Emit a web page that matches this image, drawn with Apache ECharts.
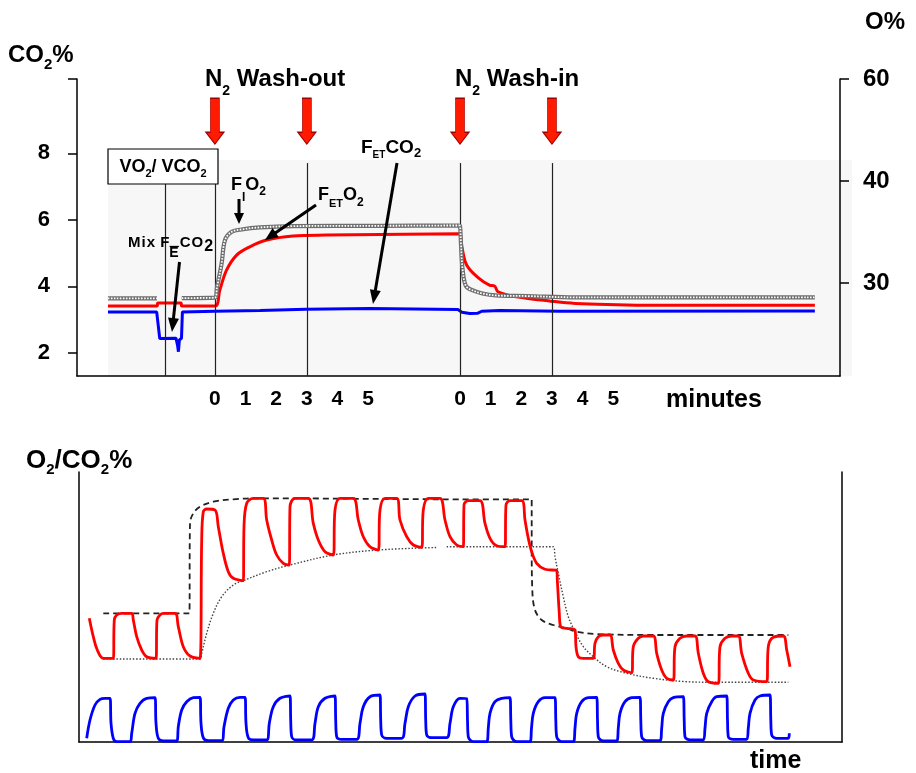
<!DOCTYPE html>
<html>
<head>
<meta charset="utf-8">
<script src="https://cdn.jsdelivr.net/npm/echarts@6/dist/echarts.min.js"></script>
<style>
  html, body { margin: 0; padding: 0; background: #fff; }
  #c { width: 916px; height: 773px; }
</style>
</head>
<body>
<div id="c"></div>
<script>
// ---------- Upper panel: trend recording, time in minutes (wash-out at 0, wash-in at 8) ----------
const minuteTicks = [0, 1, 2, 3, 4, 5, 8, 9, 10, 11, 12, 13];
const washInStart = 8;
const co2Ticks = [2, 4, 6, 8];
const o2Ticks = [60, 40, 30];
const eventTimes = [0, 3, 8, 11];                 // red arrows
const phaseLines = [-1.63, 0, 3, 8, 11];           // vertical guide lines
const phaseLineTop = [7.08, 7.08, 7.71, 7.71, 7.71];

// inspired O2 (%), null = not recorded while mixed expired gas was sampled
const fio2Time = [-3.49, -1.89, -1.5, -1.08, 0, 0.07, 0.22, 0.33, 0.55, 0.87, 1.47, 2.55, 5.39, 7.96, 8.0, 8.03, 8.08, 8.18, 8.34, 8.73, 9.17, 10.18, 11.75, 19.58];
const fio2Pct  = [28.92, 28.92, null, 28.94, 28.97, 29.71, 31.52, 33.54, 34.31, 34.54, 34.74, 34.87, 34.90, 34.93, 34.87, 33.23, 31.12, 29.85, 29.54, 29.26, 29.12, 29.08, 28.99, 28.99];

// end-tidal O2 (%)
const feto2Time = [-3.49, -1.89, -1.86, -1.11, -1.08, 0, 0.16, 0.38, 0.71, 1.14, 1.69, 2.55, 3.65, 5.38, 7.97, 8.06, 8.22, 8.62, 8.96, 9.13, 9.24, 9.85, 10.97, 11.75, 14.31, 19.58];
const feto2Pct  = [28.40, 28.40, 28.60, 28.60, 28.40, 28.40, 29.49, 30.98, 32.21, 32.93, 33.54, 33.91, 34.00, 34.06, 34.12, 32.93, 31.38, 30.35, 29.85, 29.78, 29.38, 29.03, 28.73, 28.58, 28.46, 28.46];

// end-tidal CO2 (%), with the mixed expired CO2 dip
const fetco2Time = [-3.49, -1.90, -1.80, -1.27, -1.22, -1.19, -1.16, -1.09, -1.06, 0, 1.47, 2.97, 5.06, 7.93, 8.06, 8.32, 8.58, 8.71, 9.30, 11.26, 19.58];
const fetco2Pct  = [3.23, 3.23, 2.43, 2.44, 2.23, 2.03, 2.38, 2.44, 3.23, 3.25, 3.27, 3.31, 3.33, 3.30, 3.22, 3.18, 3.19, 3.25, 3.27, 3.25, 3.26];

// ---------- Lower panel: breath-by-breath waveforms, time in seconds, gas in % ----------
const o2Wave = [
  [1.03,24.74],[1.43,21.06],[1.83,18.4],[2.43,16.74],[3.43,16.74],[3.53,24.4],[3.77,25.4],[4.27,25.74],[5.27,25.74],
  [5.43,24.4],[5.77,21.06],[6.27,18.4],[6.77,17.06],[7.7,16.74],[7.8,24.4],[8.1,25.4],[8.43,25.74],[9.6,25.74],
  [9.93,23.06],[10.43,19.06],[11.1,17.2],[12.1,16.74],[12.27,40.4],[12.43,46.06],[12.77,46.6],[13.6,46.4],
  [13.93,43.06],[14.43,37.74],[14.93,34.06],[15.43,32.74],[16.43,32.26],[16.5,43.06],[16.77,47.74],[17.43,48.74],[18.43,48.74],
  [18.77,44.4],[19.27,40.4],[19.77,37.4],[20.43,35.74],[21.03,35.4],[21.1,47.06],[21.6,48.74],[22.93,48.74],
  [23.43,43.74],[23.93,40.4],[24.6,38.06],[25.43,37.4],[25.6,46.4],[26.1,48.74],[27.43,48.74],
  [27.93,44.4],[28.43,41.06],[29.1,39.06],[29.93,38.4],[30.1,46.4],[30.6,48.74],[31.77,48.74],
  [32.1,44.4],[32.77,41.06],[33.43,39.4],[34.27,38.94],[34.43,46.4],[34.93,48.74],[36.1,48.74],
  [36.6,44.4],[37.1,41.06],[37.77,39.4],[38.43,39.06],[38.5,47.4],[38.93,48.26],[40.1,48.26],
  [40.6,43.74],[41.1,40.74],[41.77,39.26],[42.6,39.06],[42.7,47.4],[43.1,48.26],[44.27,48.26],
  [44.6,44.4],[44.93,40.74],[45.27,38.06],[45.77,35.74],[46.6,34.54],[47.77,34.26],[47.83,32.4],[48.03,25.74],
  [48.17,23.06],[48.77,22.74],[49.6,22.4],[49.7,19.06],[49.93,17.06],[50.43,16.74],[51.43,16.74],
  [51.6,19.74],[51.93,21.06],[52.43,21.4],[53.1,21.4],[53.43,18.4],[53.93,15.74],[54.43,14.4],[55.27,13.86],
  [55.43,19.06],[55.93,20.74],[56.43,21.2],[57.43,21.2],[57.77,17.74],[58.27,14.4],[58.77,12.74],[59.43,12.4],
  [59.6,19.06],[60.1,20.74],[60.77,21.2],[61.6,21.2],[61.93,17.74],[62.43,13.74],[62.93,12.06],[63.93,11.74],
  [64.1,19.06],[64.6,20.74],[65.27,21.2],[65.93,21.2],[66.27,17.74],[66.93,13.74],[67.43,12.4],[68.77,12.06],
  [68.93,19.06],[69.43,20.94],[70.43,21.2],[70.77,18.4],[71.1,15.06]
];
const co2Wave = [
  [0.77,0.74],[1.1,4.4],[1.6,7.4],[2.1,8.54],[2.6,8.74],[3.1,8.74],[3.2,3.8],[3.43,0.74],[3.77,0.06],[5.1,0.06],
  [5.27,1.74],[5.6,5.74],[6.1,7.74],[6.77,8.74],[7.6,8.86],[7.7,3.8],[7.93,0.74],[8.43,0.2],[9.77,0.2],
  [9.93,3.06],[10.27,6.4],[10.77,8.06],[11.43,8.86],[12.1,8.94],[12.2,3.8],[12.43,0.86],[12.93,0.26],[14.27,0.26],
  [14.5,3.06],[14.93,6.74],[15.43,8.4],[16.1,8.94],[16.6,8.94],[16.7,3.8],[16.93,0.86],[17.43,0.4],[18.77,0.4],
  [19.03,3.74],[19.43,7.06],[20.1,8.74],[21.1,9.2],[21.17,4.4],[21.27,1.06],[21.77,0.4],[23.27,0.4],
  [23.6,3.74],[23.93,7.06],[24.6,8.74],[25.6,9.2],[25.67,4.4],[25.77,1.06],[26.27,0.54],[27.77,0.54],
  [28.1,3.74],[28.43,7.06],[29.1,9.06],[30.1,9.4],[30.17,4.4],[30.27,1.4],[30.77,0.74],[32.27,0.74],
  [32.6,3.74],[32.93,7.06],[33.6,9.2],[34.6,9.6],[34.67,4.4],[34.77,1.4],[35.27,0.86],[36.77,0.86],
  [37.1,3.74],[37.43,7.06],[38.1,8.74],[38.77,8.7],[38.85,4.4],[38.93,1.06],[39.43,0.06],[40.77,0.06],
  [40.93,2.8],[41.1,5.74],[41.6,8.06],[42.27,8.74],[43.1,8.86],[43.18,4.4],[43.27,1.06],[43.77,0.06],[45.1,0.06],
  [45.25,2.8],[45.43,5.74],[45.93,8.06],[46.6,8.86],[47.6,8.86],[47.68,4.4],[47.77,1.06],[48.27,0.06],[49.43,0.06],
  [49.6,2.8],[49.77,5.74],[50.27,8.06],[50.93,8.86],[51.77,8.94],[51.85,4.4],[51.93,1.06],[52.43,0.2],[53.77,0.2],
  [53.93,2.8],[54.1,5.74],[54.6,8.06],[55.27,8.86],[56.1,8.94],[56.18,4.4],[56.27,1.06],[56.77,0.26],[58.1,0.26],
  [58.27,2.8],[58.43,5.74],[58.93,8.06],[59.43,8.86],[60.43,9.06],[60.52,4.4],[60.6,1.06],[61.1,0.4],[62.43,0.4],
  [62.6,2.8],[62.77,5.74],[63.27,8.06],[63.77,9.06],[64.77,9.2],[64.85,4.4],[64.93,1.06],[65.43,0.54],[66.77,0.54],
  [66.93,2.8],[67.1,5.74],[67.6,8.4],[68.1,9.2],[69.1,9.4],[69.18,4.4],[69.27,1.4],[69.77,0.74],[70.93,0.74],[71.03,1.74]
];
// inspired O2 envelope (dashed) and end-tidal O2 envelope (dotted)
const fio2Env = [
  [2.43,25.74],[11.03,25.74],[11.1,43.74],[11.43,45.74],[12.1,47.06],[13.43,48.06],[15.43,48.54],[18.1,48.74],
  [38.1,48.54],[45.27,48.54],[45.27,39.06],[45.33,30.4],[45.6,26.4],[46.27,24.4],[47.43,23.4],[48.77,22.74],
  [49.77,22.06],[51.77,21.6],[57.43,21.4],[70.93,21.4]
];
const feto2Env = [
  [2.43,16.6],[12.1,16.6],[12.27,17.74],[12.77,21.74],[13.43,25.74],[14.27,29.06],[15.43,31.4],[16.43,32.26],
  [18.77,34.06],[21.1,35.4],[25.43,37.4],[29.93,38.4],[35.77,38.9],[36.27,null],[36.77,39.06],[47.43,39.06],
  [47.6,37.06],[47.93,33.74],[48.43,29.06],[48.93,25.06],[49.6,22.06],[50.43,19.06],[51.43,17.06],[52.77,15.06],
  [54.77,13.74],[57.43,12.74],[60.77,12.06],[64.1,11.94],[70.93,11.94]
];

// ---------- helpers ----------
const F = '"Liberation Sans", Arial, Helvetica, sans-serif';
const RED = '#ff0000', BLUE = '#0000ff';
// O2 axis is reciprocal: equal steps in 120 / O%
const recip = v => 120 / v;
const zip = (ts, vs, f) => ts.map((t, i) => [t, vs[i] == null ? null : (f ? f(vs[i]) : vs[i])]);

function tok(size, padTop) {
  return { fontSize: size, fontWeight: 'bold', fontFamily: F, fill: '#000', lineHeight: size, padding: [padTop || 0, 0, 0, 0] };
}
function label(x, y, text, rich, align) {
  return { type: 'text', x: x, y: y, z: 50,
    style: { text: text, rich: rich, align: align || 'left', verticalAlign: 'middle', fill: '#000',
             fontFamily: F, fontWeight: 'bold', fontSize: 20 } };
}
function arrow(x1, y1, x2, y2, headLen, headW, w) {
  const dx = x2 - x1, dy = y2 - y1, len = Math.hypot(dx, dy);
  const ux = dx / len, uy = dy / len, px = -uy, py = ux;
  const bx = x2 - ux * headLen, by = y2 - uy * headLen;
  return [
    { type: 'line', z: 50, shape: { x1: x1, y1: y1, x2: bx + ux, y2: by + uy }, style: { stroke: '#000', lineWidth: w } },
    { type: 'polygon', z: 50, shape: { points: [[x2, y2], [bx + px * headW / 2, by + py * headW / 2], [bx - px * headW / 2, by - py * headW / 2]] },
      style: { fill: '#000' } }
  ];
}

const fio2Data = zip(fio2Time, fio2Pct, recip);
const axisLine = { show: true, onZero: false, lineStyle: { color: '#000', width: 1.5 } };

const option = {
  backgroundColor: '#fff',
  animation: false,
  grid: [
    { left: 77, right: 76, top: 79, height: 297 },
    { left: 79, right: 74, top: 472, height: 270 }
  ],
  xAxis: [
    { gridIndex: 0, type: 'value', min: -4.5, max: 20.4, axisLine: axisLine,
      axisTick: { show: false }, splitLine: { show: false },
      axisLabel: { customValues: minuteTicks, formatter: v => String(v >= washInStart ? v - washInStart : v),
                   color: '#000', fontSize: 21, fontWeight: 'bold', fontFamily: F, margin: 13 } },
    { gridIndex: 1, type: 'value', min: 0, max: 76.3, axisLine: axisLine,
      axisTick: { show: false }, axisLabel: { show: false }, splitLine: { show: false } }
  ],
  yAxis: [
    { gridIndex: 0, type: 'value', min: 1.3, max: 10.24, position: 'left', axisLine: axisLine,
      axisTick: { show: true, length: 9, customValues: co2Ticks.concat([10.24]), lineStyle: { color: '#000', width: 1.5 } },
      axisLabel: { customValues: co2Ticks, color: '#000', fontSize: 22, fontWeight: 'bold', fontFamily: F, margin: 27 },
      splitLine: { show: false } },
    { gridIndex: 0, type: 'value', min: 2, max: 4.91, inverse: true, position: 'right', axisLine: axisLine,
      axisTick: { show: true, length: 9, customValues: o2Ticks.map(recip), lineStyle: { color: '#000', width: 1.5 } },
      axisLabel: { customValues: o2Ticks.map(recip), formatter: v => String(Math.round(recip(v))),
                   color: '#000', fontSize: 24, fontWeight: 'bold', fontFamily: F, margin: 23, padding: [10, 0, 0, 0] },
      splitLine: { show: false } },
    { gridIndex: 1, type: 'value', min: 0, max: 54, position: 'left', axisLine: axisLine,
      axisTick: { show: false }, axisLabel: { show: false }, splitLine: { show: false } },
    { gridIndex: 1, type: 'value', min: 0, max: 54, position: 'right', axisLine: axisLine,
      axisTick: { show: false }, axisLabel: { show: false }, splitLine: { show: false } }
  ],
  series: [
    // upper panel
    { name: 'FIO2 trace', type: 'line', xAxisIndex: 0, yAxisIndex: 1, data: fio2Data, showSymbol: false,
      smooth: 0.35, lineStyle: { color: RED, width: 2 }, z: 3 },
    { name: 'FIO2 samples', type: 'line', xAxisIndex: 0, yAxisIndex: 1, data: fio2Data, showSymbol: false,
      smooth: 0.35, lineStyle: { color: '#6e6e6e', width: 4.2 }, z: 5 },
    { name: 'FIO2 samples inner', type: 'line', xAxisIndex: 0, yAxisIndex: 1, data: fio2Data, showSymbol: false,
      smooth: 0.35, lineStyle: { color: '#ffffff', width: 1.8, type: [1.6, 1.4] }, z: 6 },
    { name: 'FETO2', type: 'line', xAxisIndex: 0, yAxisIndex: 1, data: zip(feto2Time, feto2Pct, recip), showSymbol: false,
      smooth: 0.35, lineStyle: { color: RED, width: 3 }, z: 4 },
    { name: 'FETCO2', type: 'line', xAxisIndex: 0, yAxisIndex: 0, data: zip(fetco2Time, fetco2Pct), showSymbol: false,
      lineStyle: { color: BLUE, width: 3 }, z: 4,
      markLine: { silent: true, symbol: ['none', 'none'], label: { show: false },
        lineStyle: { color: '#222', width: 1.2, type: 'solid' },
        data: phaseLines.map((t, i) => [{ coord: [t, 1.3] }, { coord: [t, phaseLineTop[i]] }]) },
      markPoint: { silent: true, symbol: 'path://M4.5,0L13.5,0L13.5,34L18,34L9,46L0,34L4.5,34Z', symbolSize: [18, 46],
        itemStyle: { color: '#ff1a00', borderColor: '#a00000', borderWidth: 1 }, label: { show: false },
        data: eventTimes.map(t => ({ coord: [t, 8.97] })) } },
    // lower panel
    { name: 'FIO2 envelope', type: 'line', xAxisIndex: 1, yAxisIndex: 2, data: fio2Env, showSymbol: false,
      smooth: 0.35, lineStyle: { color: '#222', width: 1.8, type: [6, 4] }, z: 3 },
    { name: 'FETO2 envelope', type: 'line', xAxisIndex: 1, yAxisIndex: 2, data: feto2Env, showSymbol: false,
      smooth: 0.35, lineStyle: { color: '#444', width: 1.4, type: [1.5, 1.8] }, z: 3 },
    { name: 'O2 waveform', type: 'line', xAxisIndex: 1, yAxisIndex: 2, data: o2Wave, showSymbol: false,
      smooth: 0.35, lineStyle: { color: RED, width: 2.8 }, z: 4 },
    { name: 'CO2 waveform', type: 'line', xAxisIndex: 1, yAxisIndex: 2, data: co2Wave, showSymbol: false,
      smooth: 0.35, lineStyle: { color: BLUE, width: 2.8 }, z: 4 }
  ],
  graphic: [
    { type: 'rect', z: -5, silent: true, shape: { x: 108, y: 160, width: 744, height: 216 }, style: { fill: '#f7f7f7' } },
    { type: 'rect', z: 40, shape: { x: 108, y: 149, width: 110, height: 35 }, style: { fill: '#fff', stroke: '#000', lineWidth: 1.2 } },
    label(8, 55, '{m|CO}{s|2}{m|%}', { m: tok(24), s: tok(15, 20) }),
    label(865, 22, '{m|O%}', { m: tok(24) }),
    label(205, 79, '{m|N}{s|2}{m| Wash-out}', { m: tok(24), s: tok(14, 24) }),
    label(455, 79, '{m|N}{s|2}{m| Wash-in}', { m: tok(24), s: tok(14, 24) }),
    label(666, 400, '{m|minutes}', { m: tok(25) }),
    label(163, 167.5, '{m|VO}{s|2}{m|/ VCO}{s|2}', { m: tok(18), s: tok(11, 12) }, 'center'),
    label(231, 185, '{m|F}{a|I}{m|O}{s|2}', { m: tok(18), a: tok(12, 26), s: tok(12, 14) }),
    label(318, 195.5, '{m|F}{a|ET}{m|O}{s|2}', { m: tok(18), a: tok(11, 17), s: tok(12, 14) }),
    label(361, 147.5, '{m|F}{a|ET}{m|CO}{s|2}', { m: tok(19), a: tok(10, 15), s: tok(13, 11) }),
    label(128, 242.5, '{k|M}{k|i}{k|x}{g| }{f|F}{e|E}{k|C}{k|O}{t|2}', {
      k: Object.assign(tok(15), { padding: [0, 1, 0, 0] }),
      f: tok(15), g: tok(15),
      e: Object.assign(tok(14), { padding: [21, 1, 0, 0] }),
      t: tok(16, 8) }),
    { type: 'line', z: 50, shape: { x1: 169.6, y1: 246.5, x2: 178.9, y2: 246.5 }, style: { stroke: '#000', lineWidth: 1.3 } },
    label(26, 461, '{m|O}{s|2}{m|/CO}{s|2}{m|%}', { m: tok(26), s: tok(15, 18) }),
    label(750, 761, '{m|time}', { m: tok(25) })
  ]
    .concat(arrow(239, 199, 239, 224, 11, 10, 3))
    .concat(arrow(316, 205, 265, 240, 13, 11, 3))
    .concat(arrow(397, 163, 373, 304, 14, 11, 3))
    .concat(arrow(179.5, 262, 172, 332, 14, 11, 3))
};

const chart = echarts.init(document.getElementById('c'), null, { renderer: 'canvas', width: 916, height: 773 });
chart.setOption(option);
</script>
</body>
</html>
